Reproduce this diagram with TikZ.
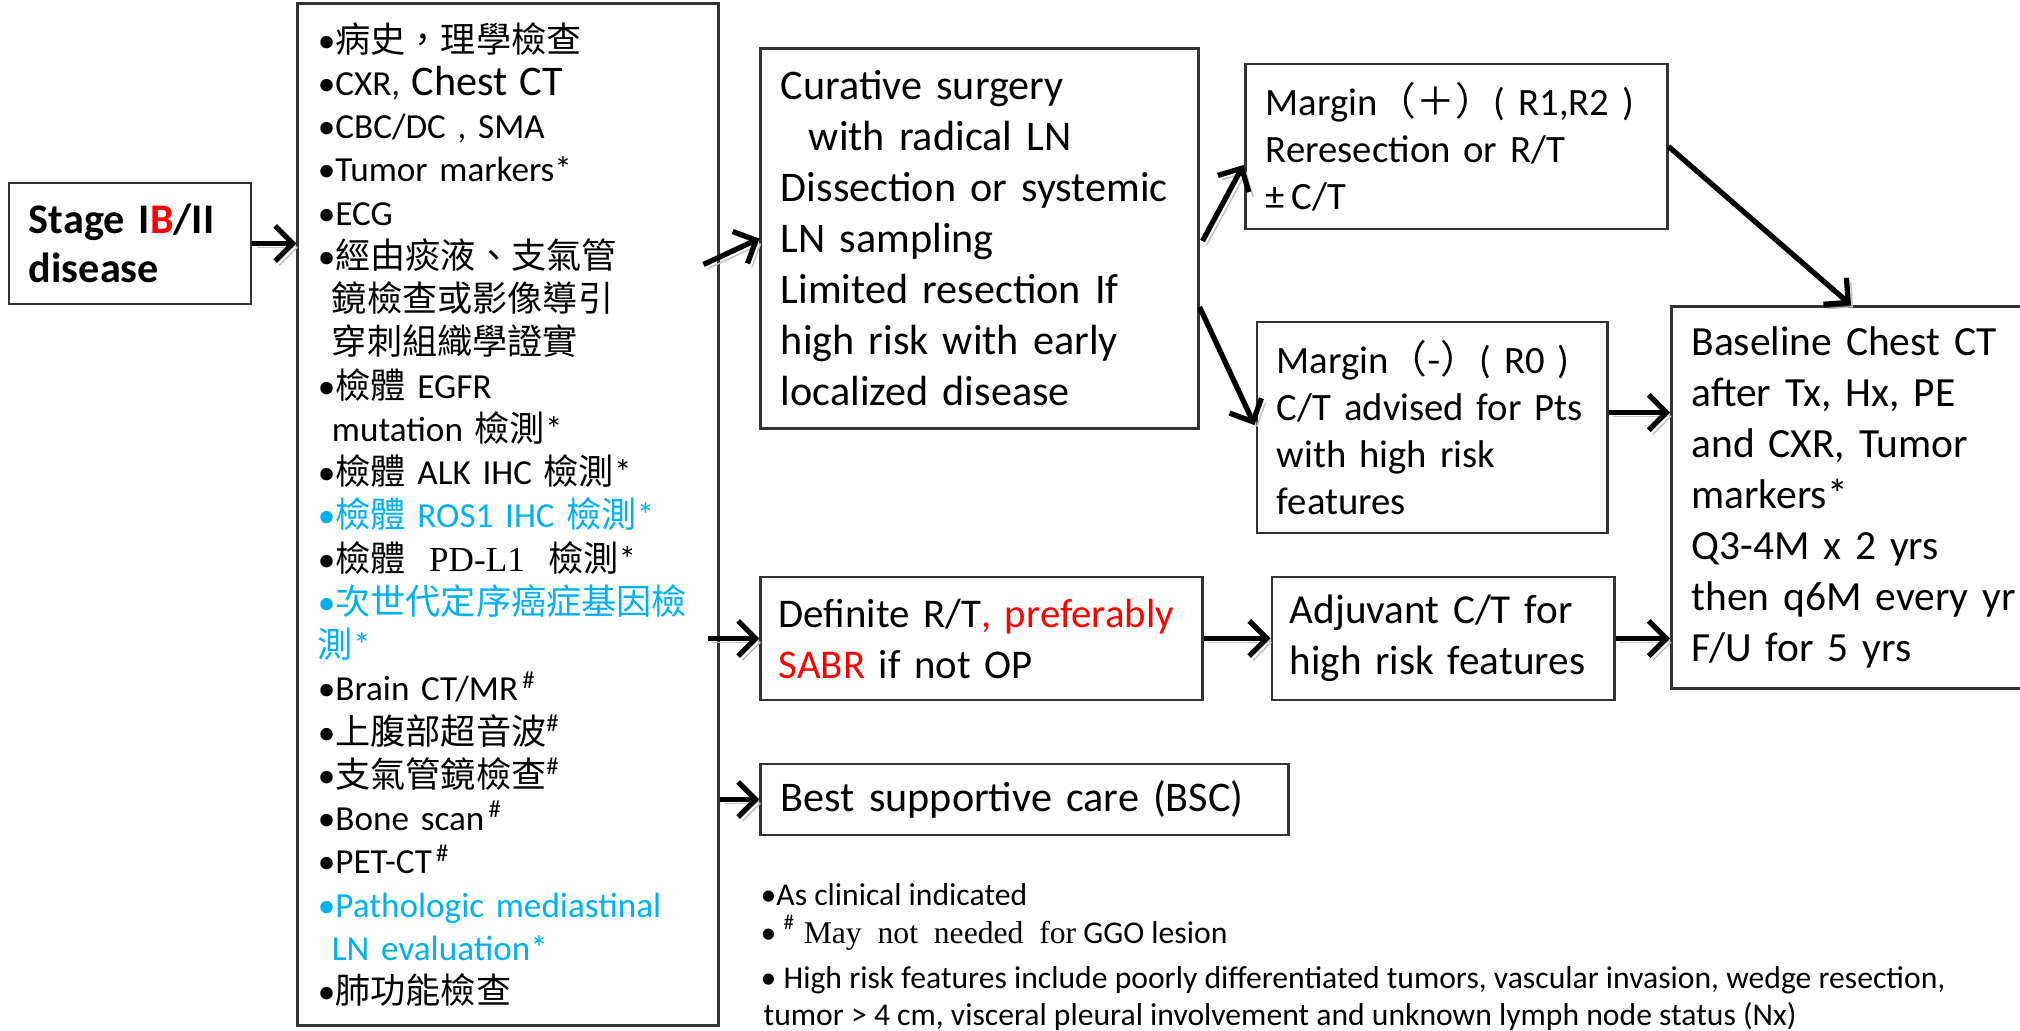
\documentclass[tikz,border=0pt]{standalone}
\usepackage{fontspec}
\setmainfont{Carlito}
\newfontfamily\cjk{Noto Sans CJK TC}
\newfontfamily\serifL{Liberation Serif}
\usepackage{xcolor}
\definecolor{hilite}{HTML}{FF0000}
\definecolor{listblue}{HTML}{00B0F0}
\usetikzlibrary{arrows.meta, calc}
\hyphenpenalty=10000
\exhyphenpenalty=10000

\begin{document}
\begin{tikzpicture}[x=0.01cm, y=-0.01cm,
  every node/.style={font=\fontsize{12}{14.5}\selectfont},
  carebox/.style={draw=black!80, line width=0.8pt, align=left,
                  inner xsep=0.2cm, inner ysep=0pt},
  carearr/.style={-{Straight Barb[length=5pt, width=10pt]}, line width=1.5pt,
                  preaction={draw=black!25, transform canvas={shift={(1.2pt,-1.2pt)}}}},
  remark/.style={anchor=west, inner sep=0pt, font=\fontsize{9}{10}\selectfont}
]
  \useasboundingbox (0,0) rectangle (2020,1031);
  % left column
  \node[carebox, text width=2.02cm, minimum height=1.21cm,
        font=\bfseries\fontsize{12}{14}\selectfont] (stage) at (130,243.5)
        {Stage I{\color{hilite}B}/II\\disease};
  \node[carebox, text width=3.80cm, minimum height=10.21cm,
        font=\fontsize{10}{12.3}\selectfont] (exams) at (508,514.5) {%
    •{\cjk 病史，理學檢查}\\
    •CXR, {\fontsize{12}{12.3}\selectfont Chest CT}\\
    •CBC/DC , SMA\\
    •Tumor markers*\\
    •ECG\\
    •{\cjk 經由痰液、支氣管}\\
    \hspace*{0.4em}{\cjk 鏡檢查或影像導引}\\
    \hspace*{0.4em}{\cjk 穿刺組織學證實}\\
    •{\cjk 檢體} EGFR\\
    \hspace*{0.4em}mutation {\cjk 檢測}*\\
    •{\cjk 檢體} ALK IHC {\cjk 檢測}*\\
    {\color{listblue}•{\cjk 檢體} ROS1 IHC {\cjk 檢測}*}\\
    •{\cjk 檢體} {\serifL\ PD-L1\ } {\cjk 檢測}*\\
    {\color{listblue}•{\cjk 次世代定序癌症基因檢}}\\
    {\color{listblue}{\cjk 測}*}\\
    •Brain CT/MR\textsuperscript{\,\#}\\
    •{\cjk 上腹部超音波}\textsuperscript{\#}\\
    •{\cjk 支氣管鏡檢查}\textsuperscript{\#}\\
    •Bone scan\textsuperscript{\,\#}\\
    •PET-CT\textsuperscript{\,\#}\\
    {\color{listblue}•Pathologic mediastinal}\\
    {\color{listblue}\hspace*{0.4em}LN evaluation*}\\
    •{\cjk 肺功能檢查}};
  % treatment
  \node[carebox, text width=3.97cm, minimum height=3.79cm] (surgery) at (979.5,238.5)
        {Curative surgery\\\hspace*{0.28cm}with radical LN\\Dissection or systemic\\
         LN sampling\\Limited resection If\\high risk with early\\localized disease};
  \node[carebox, text width=4.05cm, minimum height=1.23cm, inner xsep=0.18cm,
        font=\fontsize{11.6}{14.5}\selectfont] (radio) at (981.5,638.5)
        {Definite R/T{\color{hilite}, preferably}\\{\color{hilite}SABR} if not OP};
  \node[carebox, text width=4.87cm, minimum height=0.71cm] (bsc) at (1024.5,799.5)
        {Best supportive care (BSC)};
  \node[carebox, text width=3.81cm, minimum height=1.65cm,
        font=\fontsize{11}{13.4}\selectfont] (marginpos) at (1456.5,146.5)
        {Margin{\cjk （＋）}( R1,R2 )\\Reresection or R/T\\±\,C/T};
  \node[carebox, text width=3.10cm, minimum height=2.11cm,
        font=\fontsize{11}{13.4}\selectfont] (marginneg) at (1432,427.5)
        {Margin{\cjk （-）}( R0 )\\C/T advised for Pts\\with high risk\\features};
  \node[carebox, text width=3.06cm, minimum height=1.23cm, inner xsep=0.18cm,
        font=\fontsize{11.7}{14.5}\selectfont] (adjuvant) at (1443,638.5)
        {Adjuvant C/T for\\high risk features};
  \node[carebox, text width=3.40cm, minimum height=3.82cm, anchor=north west,
        font=\fontsize{11.8}{14.5}\selectfont] (followup) at (1670,305)
        {Baseline Chest CT\\after Tx, Hx, PE\\and CXR, Tumor\\markers*\\
         Q3-4M x 2 yrs\\then q6M every yr\\F/U for 5 yrs};
  % notes
  \node[remark] (note1) at (760,895) {•As clinical indicated};
  \node[remark] (note2) at (760,933)
        {•\ \textsuperscript{\#}{\serifL\ May\ \ not\ \ needed\ \ for} GGO lesion};
  \node[remark] (note3) at (760,980)
        {• High risk features include poorly differentiated tumors, vascular invasion, wedge resection,};
  \node[remark] (note4) at (763,1016)
        {tumor > 4 cm, visceral pleural involvement and unknown lymph node status (Nx)};
  % arrows
  \coordinate (negout) at ($(marginneg.east)+(0,-15)$);
  \draw[carearr] (stage.east) -- (stage.east -| exams.west);
  \draw[carearr] ($(exams.east)+(-16,-250)$) -- (surgery.west);
  \draw[carearr] ($(exams.east |- radio.west)+(-12,0)$) -- (radio.west);
  \draw[carearr] (exams.east |- bsc.west) -- (bsc.west);
  \draw[carearr] ($(surgery.east)+(3,2.5)$) -- ($(marginpos.west)+(-1,18.5)$);
  \draw[carearr] ($(surgery.east)+(0,68.5)$) -- ($(marginneg.west)+(-1,-2.5)$);
  \draw[carearr] (marginpos.east) -- ($(followup.north west)+(181,0)$);
  \draw[carearr] (negout) -- (negout -| followup.west);
  \draw[carearr] (radio.east) -- (adjuvant.west);
  \draw[carearr] (adjuvant.east) -- (adjuvant.east -| followup.west);
\end{tikzpicture}
\end{document}
